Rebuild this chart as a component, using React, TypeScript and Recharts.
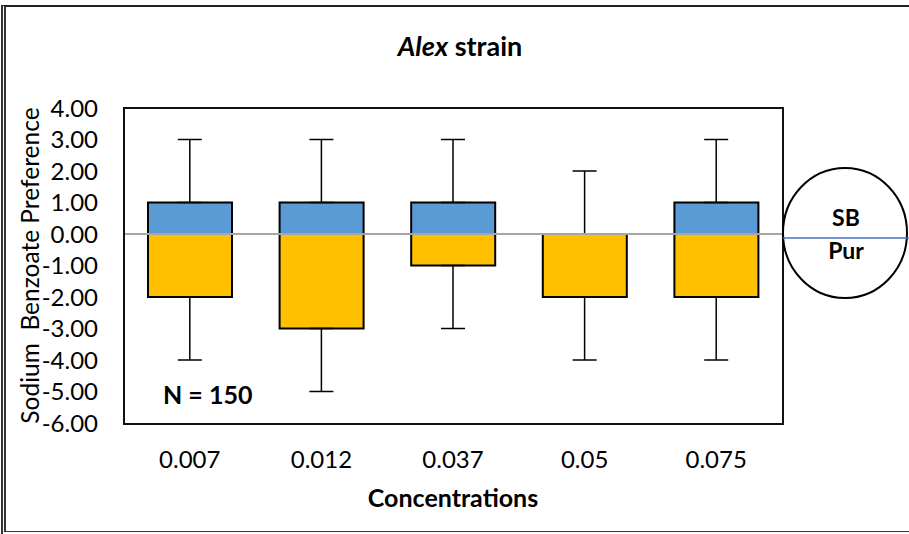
import { ComposedChart, Bar, Scatter, ErrorBar, XAxis, YAxis, ReferenceLine } from 'recharts'

const categories = ['0.007', '0.012', '0.037', '0.05', '0.075']
const upperQuartile = [1, 1, 1, 0, 1]
const lowerQuartile = [-2, -3, -1, -2, -2]
const maxValues = [3, 3, 3, 2, 3]
const minValues = [-4, -5, -3, -4, -4]
const yTicks = [-6, -5, -4, -3, -2, -1, 0, 1, 2, 3, 4]

const data = categories.map((c, i) => ({
  conc: c,
  q3: upperQuartile[i],
  q1: lowerQuartile[i],
  upErr: [0, maxValues[i] - upperQuartile[i]],
  loErr: [lowerQuartile[i] - minValues[i], 0],
}))

const font = 'Lato, "Open Sans", sans-serif'
const none = () => <g />

export default function App() {
  return (
    <div style={{ position: 'absolute', left: 0, top: 0, width: 909, height: 534, background: '#fff', overflow: 'hidden', fontFamily: font }}>
      <div style={{ position: 'absolute', left: 1, top: 5, width: 930, height: 524, borderLeft: '5px double #333', borderTop: '2px solid #222', borderBottom: '4px double #333' }} />
      <ComposedChart
        width={909}
        height={534}
        data={data}
        stackOffset="sign"
        margin={{ top: 108, right: 127, bottom: 24, left: 24 }}
        style={{ position: 'absolute', left: 0, top: 0 }}
      >
        <XAxis
          dataKey="conc"
          axisLine={false}
          tickLine={false}
          tickSize={6}
          tickMargin={22}
          height={87}
          tick={{ fill: '#000', fontSize: 24, fontFamily: font }}
          label={{ value: 'Concentrations', position: 'insideBottom', offset: 3, fill: '#000', fontSize: 25, fontWeight: 700, fontFamily: font }}
        />
        <YAxis
          domain={[-6, 4]}
          ticks={yTicks}
          interval={0}
          axisLine={false}
          tickLine={false}
          tickSize={6}
          tickMargin={20}
          width={100}
          tickFormatter={(v: number) => v.toFixed(2)}
          tick={{ fill: '#000', fontSize: 24, fontFamily: font }}
          label={{ value: 'Sodium\u00A0 Benzoate Preference', angle: -90, position: 'center', dx: -44, fill: '#000', fontSize: 24.5, fontFamily: font }}
        />
        <Scatter dataKey="q3" shape={none} isAnimationActive={false}>
          <ErrorBar dataKey="upErr" direction="y" width={12} stroke="#000" strokeWidth={1.5} isAnimationActive={false} />
        </Scatter>
        <Scatter dataKey="q1" shape={none} isAnimationActive={false}>
          <ErrorBar dataKey="loErr" direction="y" width={12} stroke="#000" strokeWidth={1.5} isAnimationActive={false} />
        </Scatter>
        <Bar dataKey="q3" stackId="box" barSize={84} fill="#5B9BD5" stroke="#000" strokeWidth={2} isAnimationActive={false} />
        <Bar dataKey="q1" stackId="box" barSize={84} fill="#FFC000" stroke="#000" strokeWidth={2} isAnimationActive={false} />
        <ReferenceLine y={0} stroke="#a6a6a6" strokeWidth={2} />
      </ComposedChart>
      <div style={{ position: 'absolute', left: 123, top: 107, width: 657, height: 314, border: '2px solid #111', pointerEvents: 'none' }} />
      <svg width={909} height={534} style={{ position: 'absolute', left: 0, top: 0, pointerEvents: 'none' }}>
        <text x={460} y={56} textAnchor="middle" fontFamily={font} fontSize={27} fontWeight={700} fill="#000">
          <tspan fontStyle="italic">Alex</tspan> strain
        </text>
        <text x={163} y={404} fontFamily={font} fontSize={25} fontWeight={700} fill="#000">N = 150</text>
        <ellipse cx={845} cy={233} rx={62} ry={65} fill="#fff" stroke="#000" strokeWidth={2} />
        <line x1={783} y1={238} x2={909} y2={238} stroke="#4472C4" strokeWidth={1.5} />
        <text x={846} y={226} textAnchor="middle" fontFamily={font} fontSize={23} fontWeight={700} fill="#000">SB</text>
        <text x={846} y={259} textAnchor="middle" fontFamily={font} fontSize={23} fontWeight={700} fill="#000">Pur</text>
      </svg>
    </div>
  )
}
